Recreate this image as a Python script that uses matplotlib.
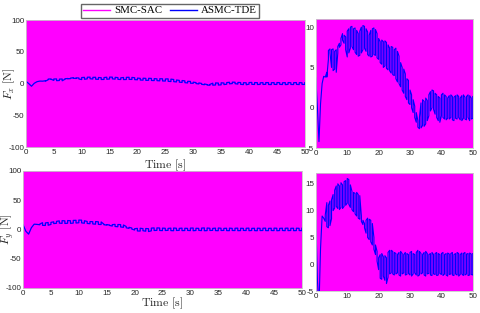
import numpy as np
import matplotlib
matplotlib.use('Agg')
import matplotlib.pyplot as plt
from matplotlib.lines import Line2D

plt.rcParams['mathtext.fontset'] = 'cm'
plt.rcParams['font.family'] = ['Liberation Sans', 'DejaVu Sans']
plt.rcParams['axes.unicode_minus'] = False

# time knots (s) for the ASMC-TDE envelopes, every 0.5 s
t = np.arange(0, 50.5, 0.5)

# SMC-SAC chatters over the whole range: read as an envelope
smc_t = [0, 50]
smc_hi = [110, 110]
smc_lo = [-110, -110]

# ASMC-TDE F_x, upper / lower chattering envelope (N)
fx_hi = [3.7, 0.0, -4.2, 0.5, 3.0, 3.9, 3.8, 4.4, 7.1, 7.3,
         7.2, 7.3, 7.0, 7.2, 7.6, 8.0, 8.6, 9.2, 9.0, 8.8,
         9.5, 9.8, 10.0, 10.1, 9.8, 9.9, 9.6, 9.2, 9.5, 10.0,
         10.2, 10.1, 9.8, 9.4, 9.0, 9.6, 9.8, 9.9, 9.7, 9.2,
         8.6, 8.2, 8.4, 8.2, 8.3, 8.1, 7.8, 7.4, 7.6, 7.5,
         7.2, 7.4, 7.0, 6.4, 5.6, 5.0, 4.8, 4.2, 3.6, 3.4,
         2.2, 1.6, 1.0, 0.2, -0.6, -1.6, -1.2, 0.6, 1.0, 0.8,
         1.2, 0.9, 1.6, 2.0, 2.2, 2.1, 1.8, 1.6, 1.4, 1.2,
         1.6, 1.8, 1.6, 1.4, 1.2, 1.5, 1.6, 1.4, 1.3, 1.5,
         1.6, 1.4, 1.2, 1.5, 1.6, 1.3, 1.4, 1.6, 1.5, 1.2,
         1.4]
fx_lo = [3.7, 0.0, -4.2, 0.5, 3.0, 3.9, 3.8, 3.8, 6.0, 6.8,
         5.0, 4.6, 4.8, 4.4, 6.8, 7.5, 7.8, 8.4, 8.0, 7.2,
         6.3, 6.8, 7.4, 7.6, 7.2, 6.9, 6.6, 6.4, 6.5, 6.8,
         7.2, 7.4, 7.0, 6.6, 6.4, 6.3, 6.4, 6.6, 6.5, 6.2,
         6.0, 5.6, 5.4, 5.0, 5.2, 4.9, 4.7, 4.6, 4.3, 4.1,
         4.0, 3.6, 3.2, 3.0, 2.6, 2.2, 1.8, 1.4, 1.0, 0.6,
         0.4, 0.0, -0.6, -1.2, -1.8, -2.4, -2.6, -2.5, -2.2, -2.3,
         -2.0, -1.6, -1.0, -0.4, 0.0, -0.2, -0.8, -1.2, -1.6, -1.8,
         -1.0, -1.2, -1.4, -1.5, -1.3, -1.4, -1.2, -1.5, -1.6, -1.3,
         -1.4, -1.2, -1.5, -1.6, -1.3, -1.4, -1.5, -1.2, -1.6, -1.4,
         -1.3]

# ASMC-TDE F_y, upper / lower chattering envelope (N)
fy_hi = [8.2, -3.0, -8.0, 3.0, 9.0, 8.6, 9.2, 11.5, 11.0, 11.8,
         12.0, 13.0, 13.8, 14.6, 15.0, 14.6, 15.2, 14.8, 15.4, 15.6,
         16.0, 15.8, 14.8, 13.6, 13.4, 13.2, 13.4, 13.0, 12.8, 9.0,
         8.2, 7.6, 8.2, 8.6, 8.4, 8.2, 7.6, 5.0, 3.6, 2.4,
         1.2, 1.8, 2.0, 1.4, 1.6, 1.2, 2.2, 2.6, 2.6, 2.4,
         2.2, 2.0, 1.8, 2.2, 2.4, 2.0, 1.8, 2.2, 2.0, 1.8,
         2.2, 2.4, 2.0, 1.8, 2.2, 2.6, 2.4, 2.0, 1.8, 2.2,
         2.4, 2.0, 1.8, 2.0, 2.2, 1.8, 2.0, 2.2, 2.0, 1.8,
         2.0, 2.2, 1.8, 2.0, 2.1, 1.9, 2.0, 2.2, 1.8, 2.0,
         2.2, 2.0, 1.8, 2.1, 2.0, 2.2, 1.9, 2.0, 2.1, 1.9,
         2.0]
fy_lo = [8.2, -3.0, -8.0, 3.0, 9.0, 8.6, 8.0, 7.0, 6.8, 7.2,
         8.5, 10.0, 10.5, 10.8, 10.4, 10.2, 10.6, 10.4, 10.8, 11.0,
         11.4, 11.2, 10.6, 10.2, 9.8, 9.4, 9.0, 8.6, 8.4, 8.0,
         7.4, 6.8, 5.8, 5.0, 4.6, 4.2, 3.6, 2.8, 1.8, 0.6,
         -1.0, -2.6, -2.8, -2.2, -3.0, -3.6, -2.4, -1.8, -1.6, -1.8,
         -2.0, -1.8, -1.6, -2.0, -2.2, -1.8, -1.6, -2.0, -1.9, -1.7,
         -2.0, -2.2, -1.8, -1.6, -2.0, -2.2, -2.0, -1.8, -1.6, -2.0,
         -2.2, -1.8, -1.7, -2.0, -2.1, -1.8, -1.9, -2.1, -2.0, -1.7,
         -1.9, -2.1, -1.8, -2.0, -2.2, -1.9, -1.8, -2.0, -2.1, -1.8,
         -2.0, -2.2, -1.9, -1.8, -2.1, -2.0, -1.8, -2.1, -2.0, -1.9,
         -2.0]

MAG = '#ff00ff'
BLUE = '#0000ff'
TXT = '#262626'


def zigzag(tt, hi, lo):
    # vertical strokes between the envelopes, alternating direction
    xs, ys = [], []
    for i, (a, h, l) in enumerate(zip(tt, hi, lo)):
        xs += [a, a]
        ys += [l, h] if i % 2 == 0 else [h, l]
    return xs, ys


def draw(ax, hi, lo, lw):
    ax.fill_between(smc_t, smc_lo, smc_hi, color=MAG, lw=0)
    xs, ys = zigzag(t, hi, lo)
    ax.plot(xs, ys, color=BLUE, lw=lw)
    ax.set_xlim(0, 50)
    ax.tick_params(labelsize=5.8, colors=TXT, direction='in', length=0, pad=1.2)
    for s in ax.spines.values():
        s.set_color('#c8c8c8')
        s.set_linewidth(0.6)


fig = plt.figure(figsize=(4.8, 3.13), dpi=100)

ax1 = fig.add_axes([0.054, 0.530, 0.581, 0.406])
ax2 = fig.add_axes([0.658, 0.527, 0.327, 0.412])
ax3 = fig.add_axes([0.048, 0.080, 0.581, 0.374])
ax4 = fig.add_axes([0.658, 0.070, 0.327, 0.377])

for ax, hi, lo, lab, xl, yl in [(ax1, fx_hi, fx_lo, r'$F_x$', -0.058, -0.145),
                                 (ax3, fy_hi, fy_lo, r'$F_y$', -0.056, -0.132)]:
    draw(ax, hi, lo, 0.9)
    ax.set_ylim(-100, 100)
    ax.set_xticks(range(0, 51, 5))
    ax.set_yticks([-100, -50, 0, 50, 100])
    ax.set_xlabel(r'$\mathrm{Time\ [s]}$', fontsize=8.5, color=TXT)
    ax.set_ylabel(lab + r'$\ \mathrm{[N]}$', fontsize=8.5, color=TXT)
    ax.yaxis.set_label_coords(xl, 0.5)
    ax.xaxis.set_label_coords(0.5, yl)
    ax.yaxis.label.set_va('center')
    ax.xaxis.label.set_va('center')

draw(ax2, fx_hi, fx_lo, 0.8)
ax2.set_ylim(-5, 11)
ax2.set_yticks([-5, 0, 5, 10])
draw(ax4, fy_hi, fy_lo, 0.8)
ax4.set_ylim(-5, 17)
ax4.set_yticks([-5, 0, 5, 10, 15])
for ax in (ax2, ax4):
    ax.set_xticks(range(0, 51, 10))

handles = [Line2D([], [], color=MAG, lw=1), Line2D([], [], color=BLUE, lw=1)]
fig.legend(handles, ['SMC-SAC', 'ASMC-TDE'], loc='center', ncol=2,
           bbox_to_anchor=(0.354, 0.966), frameon=True,
           fancybox=False, edgecolor='#404040', handlelength=2.5,
           columnspacing=0.7, handletextpad=0.4, borderpad=0.2,
           prop={'family': 'Liberation Serif', 'size': 7.8})

fig.savefig('out.png', dpi=100)
